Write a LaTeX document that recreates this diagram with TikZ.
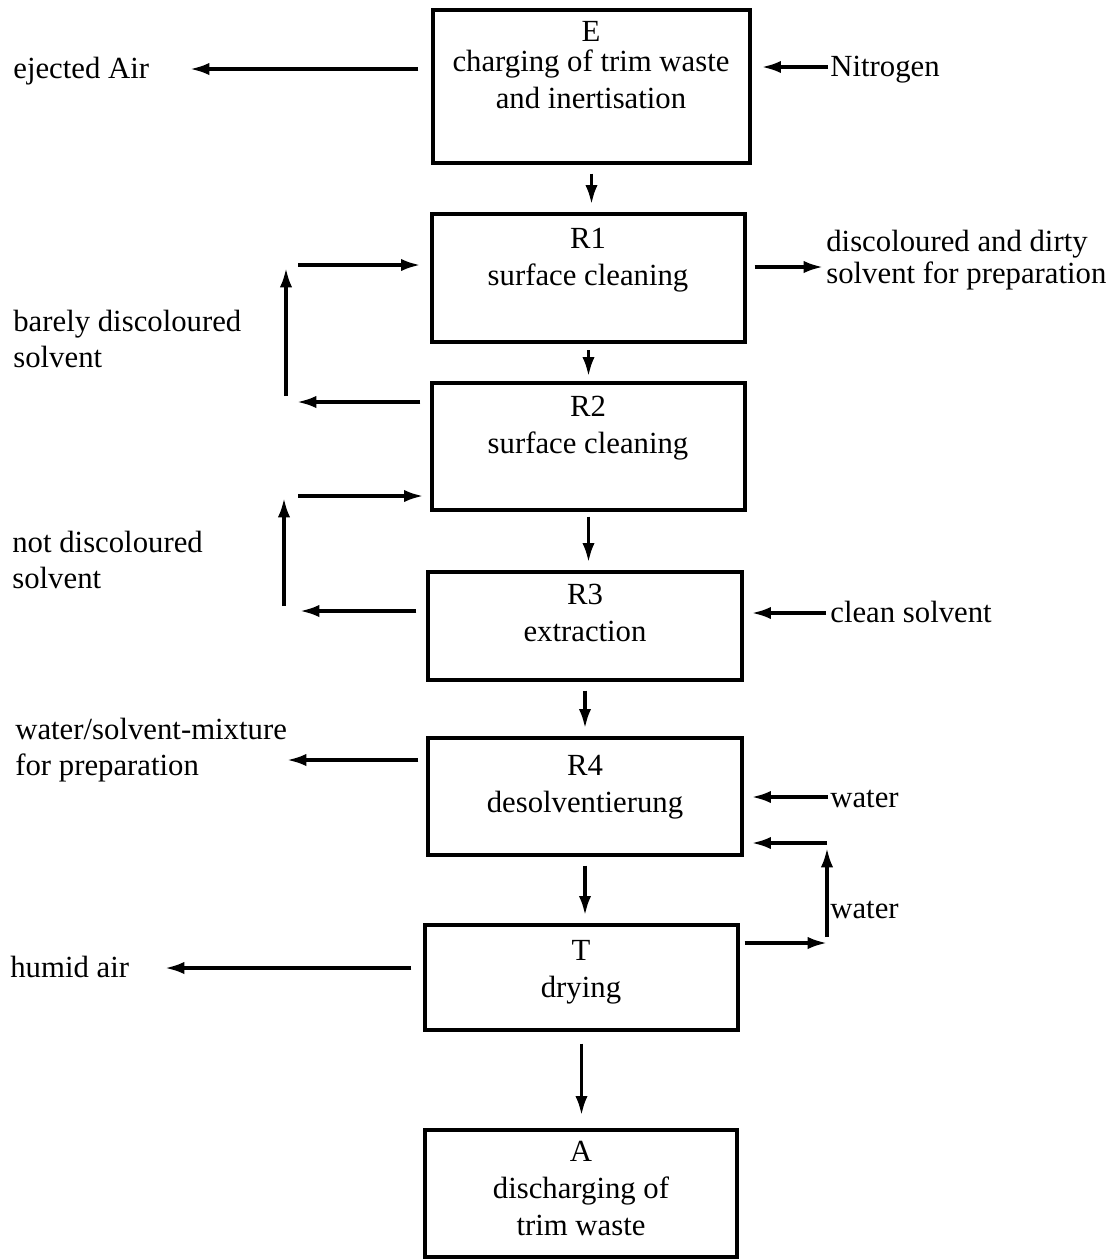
\documentclass[tikz,border=0pt]{standalone}
\usepackage{fontspec}
\setmainfont{Liberation Serif}
\usetikzlibrary{
    calc,
    arrows.meta
}

\tikzset{
    box/.style={draw, line width=1.9pt, inner sep=0pt},
    boxtext/.style={anchor=base, align=center, inner sep=0pt,
        font=\fontsize{17.5}{21}\selectfont},
    side/.style={anchor=base west, align=left, inner sep=0pt,
        font=\fontsize{17.5}{20}\selectfont},
    flow/.style={line width=1.9pt, -{Latex[length=11pt,width=7pt]}},
    down/.style={flow, shorten <=0.18cm, shorten >=0.16cm}
}

\begin{document}
\begin{tikzpicture}[x=0.02cm,y=-0.02cm]
\useasboundingbox (0,0) rectangle (1118,1259);

\node[box, minimum width=6.34cm, minimum height=3.06cm] (E) at (591.5,86.5) {};
\node[box, minimum width=6.26cm, minimum height=2.56cm] (R1) at (588.5,278) {};
\node[box, minimum width=6.26cm, minimum height=2.54cm] (R2) at (588.5,446.5) {};
\node[box, minimum width=6.28cm, minimum height=2.16cm] (R3) at (585,626) {};
\node[box, minimum width=6.28cm, minimum height=2.34cm] (R4) at (585,796.5) {};
\node[box, minimum width=6.26cm, minimum height=2.10cm] (T) at (581.5,977.5) {};
\node[box, minimum width=6.24cm, minimum height=2.54cm] (A) at (581,1193.5) {};

\node[boxtext] (Etxt) at (591,108) {E\\[-4pt]charging of trim waste\\and inertisation};
\node[boxtext] (R1txt) at (588,285) {R1\\surface cleaning};
\node[boxtext] (R2txt) at (588,453) {R2\\surface cleaning};
\node[boxtext] (R3txt) at (585,641) {R3\\extraction};
\node[boxtext] (R4txt) at (585,812) {R4\\desolventierung};
\node[boxtext] (Ttxt) at (581,997) {T\\drying};
\node[boxtext] (Atxt) at (581,1235) {A\\discharging of\\trim waste};

\node[side] (lblAir) at (13,78) {ejected Air};
\node[side] (lblN2) at (830,76) {Nitrogen};
\node[side] (lblDirty) at (826,283) {discoloured and dirty\\[-2pt]solvent for preparation};
\node[side] (lblBarely) at (13,367) {barely discoloured\\solvent};
\node[side] (lblNot) at (12,588) {not discoloured\\solvent};
\node[side] (lblClean) at (830,622) {clean solvent};
\node[side] (lblMix) at (15,775) {water/solvent-mixture\\for preparation};
\node[side] (lblWater) at (830,807) {water};
\node[side] (lblWater2) at (830,918) {water};
\node[side] (lblHumid) at (10,977) {humid air};

\coordinate (air) at (190,69);
\coordinate (nitro) at (828,67);
\coordinate (dirty) at (823,267);
\coordinate (loop1b) at (286,396);
\coordinate (loop1t) at (286,268);
\coordinate (in1) at (298,265);
\coordinate (out2) at (297,402);
\coordinate (loop2b) at (284,606);
\coordinate (loop2t) at (284,498);
\coordinate (in2) at (298,496);
\coordinate (out3) at (300,611);
\coordinate (clean) at (826,613);
\coordinate (mix) at (287,760);
\coordinate (water) at (828,797);
\coordinate (back) at (827,843);
\coordinate (backb) at (827,937);
\coordinate (backt) at (827,848);
\coordinate (tout) at (827,943);
\coordinate (humid) at (165,968);

\draw[down] (E.south) -- (E.south |- R1.north);
\draw[down, shorten <=0.13cm, shorten >=0.1cm] (R1.south) -- (R1.south |- R2.north);
\draw[down, shorten <=0.1cm] (R2.south) -- (R2.south |- R3.north);
\draw[down] (R3.south) -- (R3.south |- R4.north);
\draw[down] (R4.south) -- (R4.south |- T.north);
\draw[down, shorten <=0.24cm, shorten >=0.26cm] (T.south) -- (T.south |- A.north);

\draw[flow] ([xshift=-0.26cm]E.west |- air) -- (air);
\draw[flow] (nitro) -- ([xshift=0.2cm]E.east |- nitro);
\draw[flow] ([xshift=0.16cm]R1.east |- dirty) -- (dirty);

\draw[flow] (loop1b) -- (loop1t);
\draw[flow] (in1) -- ([xshift=-0.2cm]R1.west |- in1);
\draw[flow] ([xshift=-0.2cm]R2.west |- out2) -- (out2);

\draw[flow] (loop2b) -- (loop2t);
\draw[flow] (in2) -- ([xshift=-0.14cm]R2.west |- in2);
\draw[flow] ([xshift=-0.2cm]R3.west |- out3) -- (out3);
\draw[flow] (clean) -- ([xshift=0.16cm]R3.east |- clean);

\draw[flow] ([xshift=-0.16cm]R4.west |- mix) -- (mix);
\draw[flow] (water) -- ([xshift=0.16cm]R4.east |- water);
\draw[flow] (back) -- ([xshift=0.16cm]R4.east |- back);
\draw[flow] (backb) -- (backt);
\draw[flow] ([xshift=0.1cm]T.east |- tout) -- (tout);

\draw[flow] ([xshift=-0.24cm]T.west |- humid) -- (humid);

\end{tikzpicture}
\end{document}
